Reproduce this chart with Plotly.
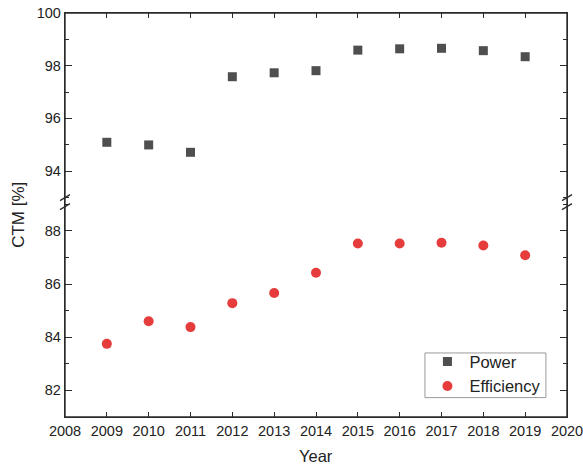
import plotly.graph_objects as go

years = [2009, 2010, 2011, 2012, 2013, 2014, 2015, 2016, 2017, 2018, 2019]
power = [95.09, 94.99, 94.71, 97.58, 97.73, 97.81, 98.59, 98.64, 98.66, 98.57, 98.34]
efficiency = [83.75, 84.60, 84.38, 85.28, 85.66, 86.42, 87.52, 87.52, 87.55, 87.45, 87.08]

x_ticks = list(range(2008, 2021))
lower_ticks = [82, 84, 86, 88]
upper_ticks = [94, 96, 98, 100]

FONT = "Liberation Sans, Arial, sans-serif"
AXC = "#2b2b2b"
W, H = 583, 469
ML, MR, MT, MB = 65, 16, 13, 52
split = 0.532  # domain boundary at the axis break

fig = go.Figure()
fig.add_trace(go.Scatter(
    x=years, y=power, mode="markers", name="Power",
    marker=dict(symbol="square", size=9, color="#4f4f4f"),
    xaxis="x2", yaxis="y2"))
fig.add_trace(go.Scatter(
    x=years, y=efficiency, mode="markers", name="Efficiency",
    marker=dict(symbol="circle", size=10, color="#e63c3c"),
    xaxis="x", yaxis="y"))

common_axis = dict(showline=True, linecolor=AXC, linewidth=1.4, showgrid=False,
                   zeroline=False, ticks="inside", tickcolor=AXC, tickwidth=1.2,
                   ticklabeloverflow="allow", automargin=False,
                   tickfont=dict(family=FONT, size=14.5, color="#222"))

fig.update_layout(
    width=W, height=H,
    margin=dict(l=ML, r=MR, t=MT, b=MB, autoexpand=False),
    paper_bgcolor="white", plot_bgcolor="white",
    font=dict(family=FONT, color="#222"),
    xaxis=dict(**common_axis, domain=[0, 1], anchor="y", range=[2008, 2020],
               tickvals=x_ticks, ticklen=5),
    xaxis2=dict(**common_axis, domain=[0, 1], anchor="y2", matches="x", side="top",
                range=[2008, 2020], tickvals=x_ticks[1:-1], ticklen=5,
                showticklabels=False),
    yaxis=dict(**common_axis, domain=[0, split], anchor="x", range=[81, 89.08],
               tickvals=lower_ticks, ticklen=7, mirror="allticks",
               minor=dict(ticks="inside", dtick=1, tick0=81, ticklen=4, tickcolor=AXC)),
    yaxis2=dict(**common_axis, domain=[split, 1], anchor="x2", range=[92.82, 100],
                tickvals=upper_ticks, ticklen=7, mirror="allticks",
                minor=dict(ticks="inside", dtick=1, tick0=93, ticklen=4, tickcolor=AXC)),
    legend=dict(x=0.718, y=0.180, xanchor="left", yanchor="top",
                borderwidth=0, bgcolor="rgba(0,0,0,0)",
                font=dict(family=FONT, size=16.5, color="#222"),
                itemwidth=34, tracegroupgap=0),
    showlegend=True,
)

# full frame around the plot area
fig.add_shape(type="rect", xref="paper", yref="paper", x0=0, x1=1, y0=0, y1=1,
              line=dict(color=AXC, width=1.4))

# legend frame
fig.add_shape(type="rect", xref="paper", yref="paper",
              x0=0.717, x1=0.958, y0=0.048, y1=0.1585,
              line=dict(color="#9a9a9a", width=1), layer="below")

# axis titles
fig.add_annotation(text="CTM [%]", xref="paper", yref="paper", x=-0.094, y=0.5,
                   xanchor="center", yanchor="middle", textangle=-90,
                   showarrow=False, font=dict(family=FONT, size=17, color="#222"))
fig.add_annotation(text="Year", xref="paper", yref="paper", x=0.5, y=-0.097,
                   xanchor="center", yanchor="middle",
                   showarrow=False, font=dict(family=FONT, size=16.5, color="#222"))

# break marks "//" on left and right axes
pw = W - ML - MR
ph = H - MT - MB
dx = 5.0 / pw
for xc in (0.0, 1.0):
    for off in (4.5, -4.5):
        yc = split + off / ph
        fig.add_shape(type="line", xref="paper", yref="paper",
                      x0=xc - dx, x1=xc + dx,
                      y0=yc - 3.0 / ph, y1=yc + 3.0 / ph,
                      line=dict(color=AXC, width=1.3))

fig.write_html("out.html", config={"displayModeBar": False},
               post_script="document.body.style.margin='0';")
